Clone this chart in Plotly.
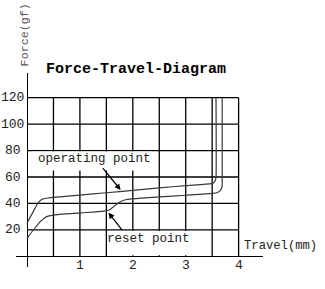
import plotly.graph_objects as go

# ---- data ----
op_x = [0, 0.12, 0.22, 0.30, 0.40, 1.0, 1.5, 2.0, 2.5, 3.0, 3.48, 3.535, 3.562, 3.573, 3.573]
op_y = [25, 34, 41, 43.3, 44.1, 46.3, 48.1, 49.9, 51.7, 53.5, 55.0, 55.8, 57.5, 60, 120]

rs_x = [0, 0.12, 0.25, 0.37, 0.5, 1.0, 1.45, 1.55, 1.65, 1.76, 1.88, 2.1, 2.5, 3.0, 3.5, 3.6, 3.66, 3.685, 3.69, 3.69]
rs_y = [13.6, 19.9, 26.2, 30.0, 31.2, 32.8, 34.2, 35.0, 38.0, 41.3, 43.0, 43.8, 44.9, 46.2, 47.6, 48.3, 50.0, 52.5, 55.0, 120]

x_ticks = [1, 2, 3, 4]
y_ticks = [20, 40, 60, 80, 100, 120]
x_grid = [0.5, 1.0, 1.5, 2.0, 2.5, 3.0, 3.5, 4.0]
y_grid = [20, 40, 60, 80, 100, 120]

title_text = "Force-Travel-Diagram"
x_title = "Travel(mm)"
y_title = "Force(gf)"
op_label = "operating point"
rs_label = "reset point"

X0, X1 = -0.208, 4.461
Y0, Y1 = -8.1, 138.7
FONT = "Liberation Mono"
CURVE = "#3a3a3a"


def px(x):
    return (x - X0) / (X1 - X0)


def py(y):
    return (y - Y0) / (Y1 - Y0)


fig = go.Figure()
fig.add_trace(go.Scatter(x=op_x, y=op_y, mode="lines",
                         line=dict(color=CURVE, width=1.2, shape="spline", smoothing=0.5),
                         hoverinfo="skip", showlegend=False))
fig.add_trace(go.Scatter(x=rs_x, y=rs_y, mode="lines",
                         line=dict(color=CURVE, width=1.2, shape="spline", smoothing=0.5),
                         hoverinfo="skip", showlegend=False))

shapes = []
for gx in x_grid:
    shapes.append(dict(type="line", xref="x", yref="y", x0=gx, x1=gx, y0=0, y1=max(y_grid),
                       line=dict(color="black", width=1.3), layer="below"))
for gy in y_grid:
    shapes.append(dict(type="line", xref="x", yref="y", x0=0, x1=max(x_grid), y0=gy, y1=gy,
                       line=dict(color="black", width=1.3), layer="below"))
# white boxes behind the two labels
shapes.append(dict(type="rect", xref="x", yref="y", x0=0.1, x1=2.35, y0=65.0, y1=79.3,
                   fillcolor="white", line=dict(width=0), layer="above"))
shapes.append(dict(type="rect", xref="x", yref="y", x0=1.56, x1=3.38, y0=0.8, y1=19.2,
                   fillcolor="white", line=dict(width=0), layer="above"))

TICKF = dict(family=FONT, size=13, color="#222")
ann = []
for t in x_ticks:
    ann.append(dict(x=px(t), y=py(-7.1), xref="paper", yref="paper", text=str(t), showarrow=False,
                    xanchor="center", yanchor="middle", font=TICKF))
for t in y_ticks:
    ann.append(dict(x=px(-0.27), y=py(t), xref="paper", yref="paper", text=str(t), showarrow=False,
                    xanchor="center", yanchor="middle", font=TICKF))
ann.append(dict(x=px(2.054), y=py(141.7), xref="paper", yref="paper", text="<b>" + title_text + "</b>",
                showarrow=False, xanchor="center", yanchor="middle",
                font=dict(family=FONT, size=15, color="black")))
ann.append(dict(x=px(4.06), y=py(7.8), xref="paper", yref="paper", text=x_title, showarrow=False,
                xanchor="left", yanchor="middle", font=dict(family=FONT, size=12.2, color="#222")))
ann.append(dict(x=px(-0.032), y=py(167.4), xref="paper", yref="paper", text=y_title, showarrow=False,
                textangle=-90, xanchor="center", yanchor="middle",
                font=dict(family=FONT, size=11.7, color="#555")))
ann.append(dict(x=px(1.276), y=py(73.6), xref="paper", yref="paper", text=op_label, showarrow=False,
                xanchor="center", yanchor="middle", font=dict(family=FONT, size=12.5, color="#222")))
ann.append(dict(x=px(2.30), y=py(13.1), xref="paper", yref="paper", text=rs_label, showarrow=False,
                xanchor="center", yanchor="middle", font=dict(family=FONT, size=12.5, color="#222")))
# arrows
ann.append(dict(x=1.77, y=50.2, ax=1.41, ay=67.8, xref="x", yref="y", axref="x", ayref="y",
                text="", showarrow=True, arrowhead=2, arrowsize=1, arrowwidth=1.2,
                arrowcolor="black", standoff=0))
ann.append(dict(x=1.54, y=33.0, ax=1.82, ay=18.6, xref="x", yref="y", axref="x", ayref="y",
                text="", showarrow=True, arrowhead=2, arrowsize=1, arrowwidth=1.2,
                arrowcolor="black", standoff=0))

fig.update_layout(
    width=325, height=289,
    margin=dict(l=16, r=62, t=73, b=22, pad=0),
    paper_bgcolor="white", plot_bgcolor="white",
    shapes=shapes, annotations=ann, showlegend=False,
    xaxis=dict(range=[X0, X1], showgrid=False, zeroline=True, zerolinecolor="black",
               zerolinewidth=1.3, showticklabels=False, ticks="", showline=False, fixedrange=True),
    yaxis=dict(range=[Y0, Y1], showgrid=False, zeroline=True, zerolinecolor="black",
               zerolinewidth=1.3, showticklabels=False, ticks="", showline=False, fixedrange=True),
)
fig.write_html("out.html", config={"displayModeBar": False})
